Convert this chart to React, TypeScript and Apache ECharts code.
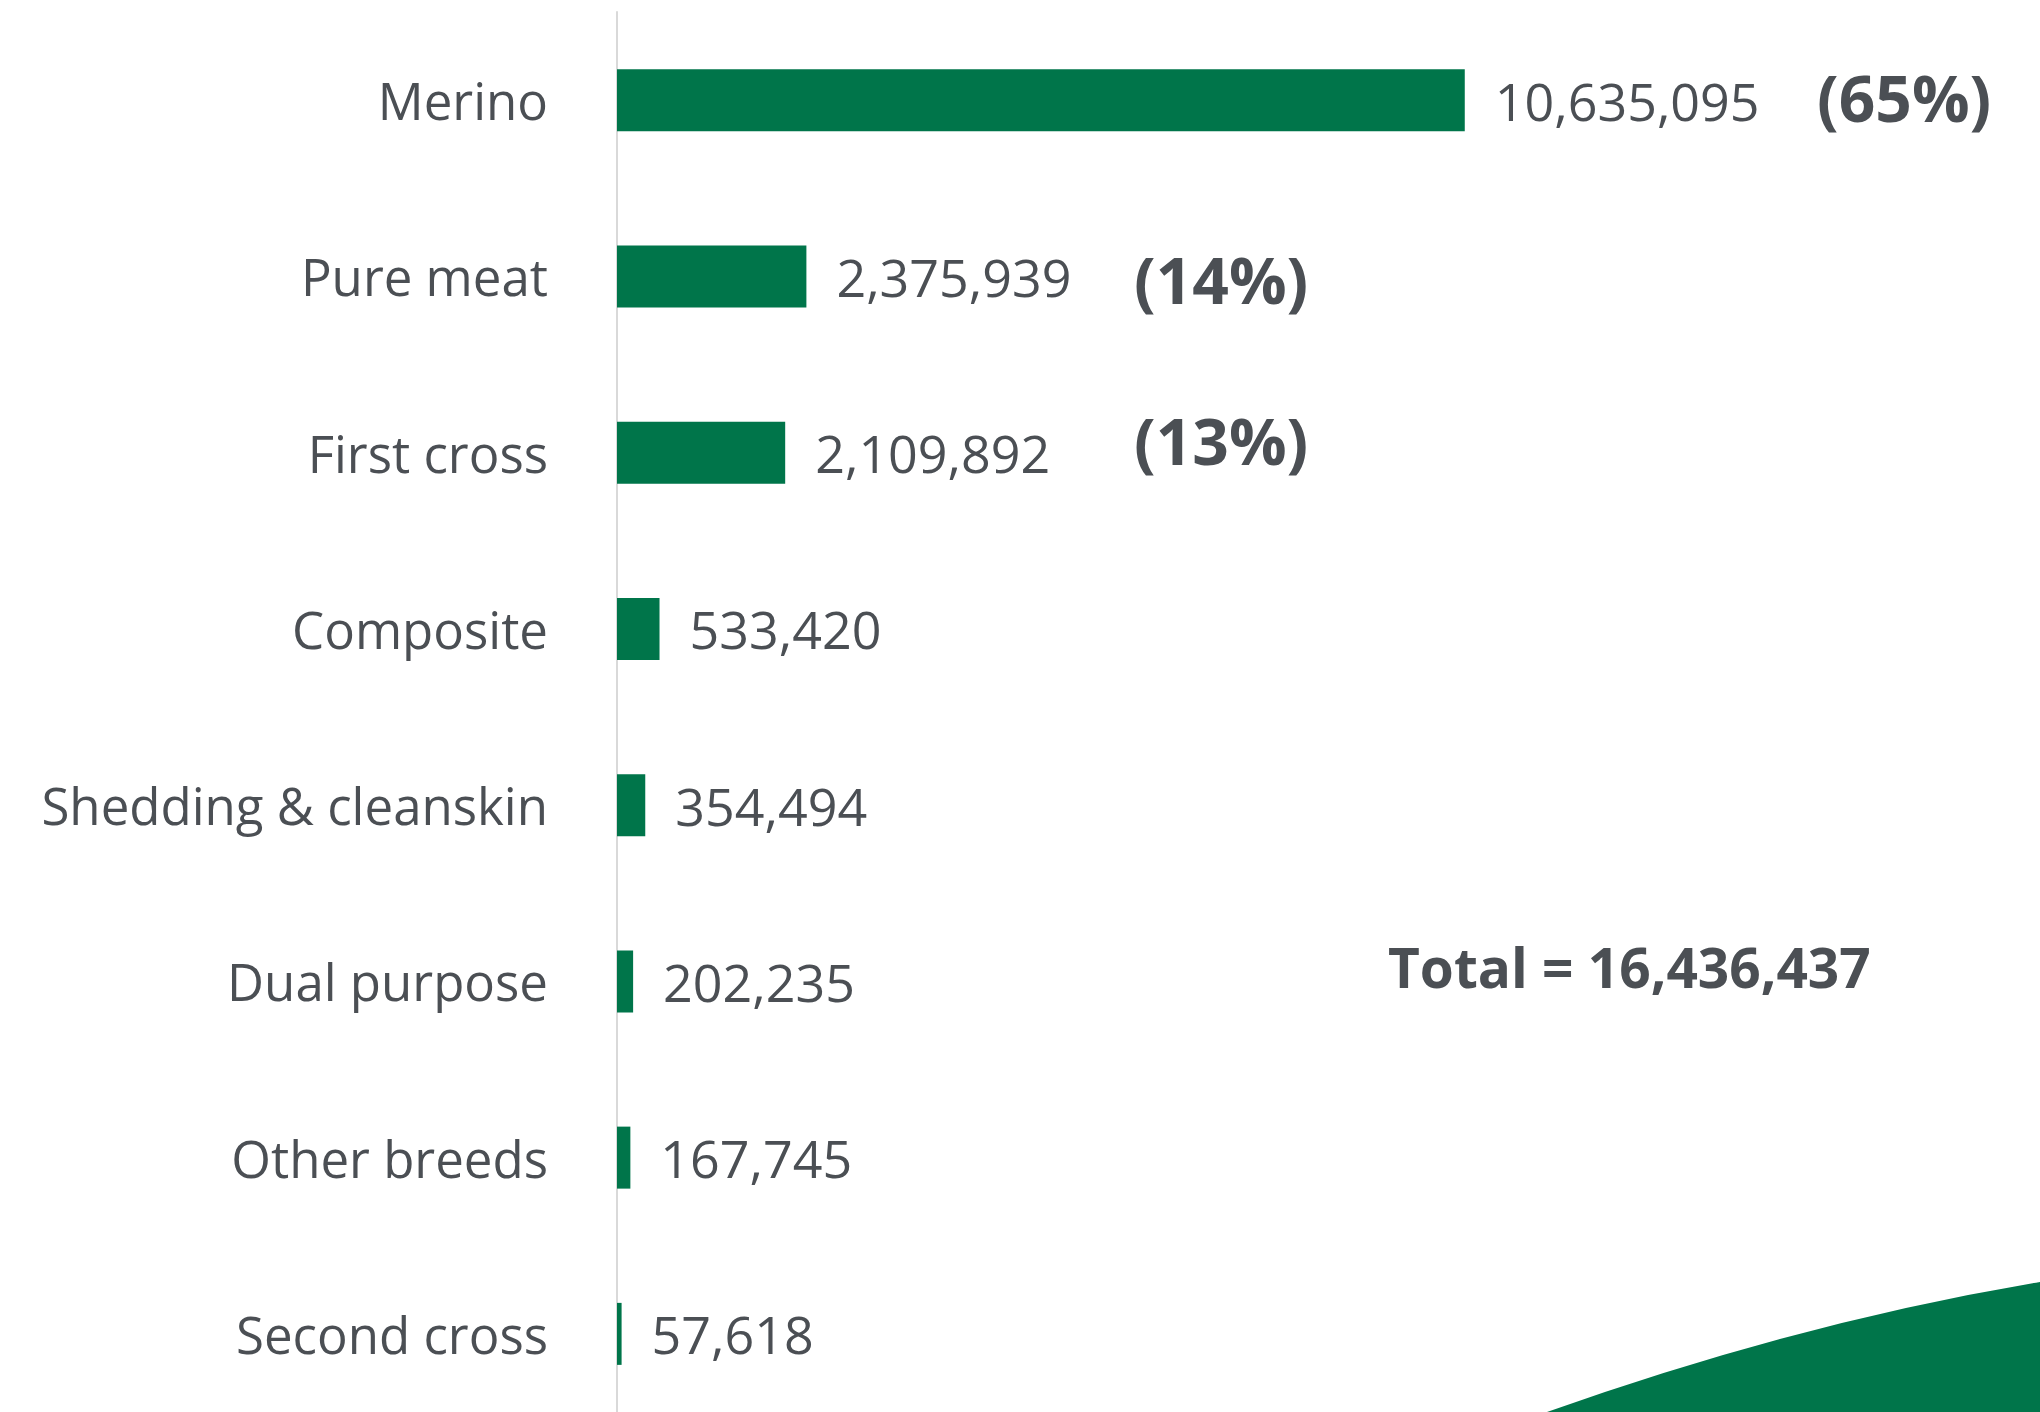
import React, { useEffect, useRef } from "react";
import * as echarts from "echarts";

const categories = [
  "Merino",
  "Pure meat",
  "First cross",
  "Composite",
  "Shedding & cleanskin",
  "Dual purpose",
  "Other breeds",
  "Second cross",
];
const values = [10635095, 2375939, 2109892, 533420, 354494, 202235, 167745, 57618];
const totalLabel = "16,436,437";
const highlighted = ["Merino", "Pure meat", "First cross"];

const GREEN = "#00754A";
const TEXT = "#4b4f54";
const FONT = "'Open Sans', 'Noto Sans', sans-serif";

const fmt = (v: number) => v.toLocaleString("en-US");

export default function App() {
  const ref = useRef<HTMLDivElement>(null);
  useEffect(() => {
    if (!ref.current) return;
    document.body.style.margin = "0";
    document.body.style.overflow = "hidden";
    const total = values.reduce((a, b) => a + b, 0);
    const pct = (name: string) =>
      "(" + Math.round((values[categories.indexOf(name)] / total) * 100) + "%)";

    echarts.graphic.registerShape(
      "swoosh",
      echarts.graphic.extendPath("M1547 1412 Q1800 1322 2040 1282 L2040 1450 L1440 1450 Z", {})
    );

    const chart = echarts.init(ref.current, undefined, { renderer: "svg" });
    chart.setOption({
      animation: false,
      backgroundColor: "#ffffff",
      grid: { left: 617, top: 12, width: 1395, height: 1410, containLabel: false },
      xAxis: {
        type: "value",
        min: 0,
        max: 17500000,
        show: false,
        splitLine: { show: false },
      },
      yAxis: {
        type: "category",
        data: categories,
        inverse: true,
        axisLine: { show: true, lineStyle: { color: "#d9d9d9", width: 2 } },
        axisTick: { show: false },
        axisLabel: {
          margin: 69,
          fontSize: 51,
          fontFamily: FONT,
          color: TEXT,
        },
      },
      series: [
        {
          type: "bar",
          data: values,
          barWidth: 62,
          itemStyle: { color: GREEN },
          label: {
            show: true,
            position: "right",
            distance: 30,
            fontSize: 52,
            fontFamily: FONT,
            color: TEXT,
            formatter: (p: any) => fmt(p.value),
          },
        },
      ],
      graphic: [
        {
          type: "swoosh",
          x: 0,
          y: 0,
          style: { fill: GREEN },
          silent: true,
        },
        {
          type: "text",
          left: 1817,
          top: 109 - 44,
          style: {
            text: pct(highlighted[0]),
            fontSize: 64,
            fontWeight: "bold",
            fontFamily: FONT,
            fill: TEXT,
          },
        },
        {
          type: "text",
          left: 1134,
          top: 291 - 44,
          style: {
            text: pct(highlighted[1]),
            fontSize: 64,
            fontWeight: "bold",
            fontFamily: FONT,
            fill: TEXT,
          },
        },
        {
          type: "text",
          left: 1134,
          top: 452 - 44,
          style: {
            text: pct(highlighted[2]),
            fontSize: 64,
            fontWeight: "bold",
            fontFamily: FONT,
            fill: TEXT,
          },
        },
        {
          type: "text",
          left: 1388,
          top: 977 - 38,
          style: {
            text: "Total = " + totalLabel,
            fontSize: 55,
            fontWeight: "bold",
            fontFamily: FONT,
            fill: TEXT,
          },
        },
      ],
    });
    return () => chart.dispose();
  }, []);
  return (
    <div
      ref={ref}
      style={{ position: "fixed", left: 0, top: 0, width: 2040, height: 1440 }}
    />
  );
}
